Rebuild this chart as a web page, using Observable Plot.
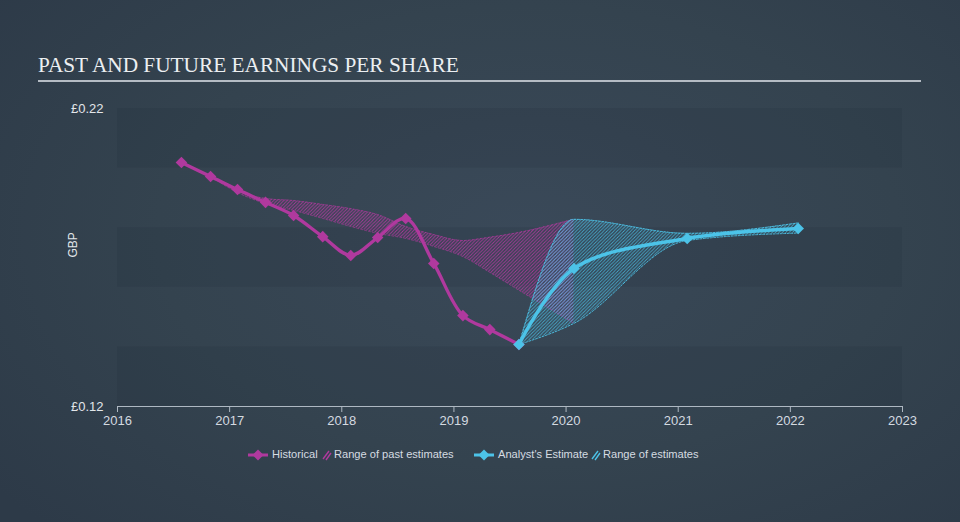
<!DOCTYPE html>
<html>
<head>
<meta charset="utf-8">
<script src="https://cdn.jsdelivr.net/npm/d3@7"></script>
<script src="https://cdn.jsdelivr.net/npm/@observablehq/plot@0.6"></script>
<style>
  html, body { margin: 0; padding: 0; }
  body { width: 960px; height: 522px; overflow: hidden; }
  #root {
    position: relative; width: 960px; height: 522px;
    background: radial-gradient(ellipse 70% 80% at 55% 45%, #3a4959 0%, #34434f 55%, #2d3a48 100%);
    font-family: "Liberation Sans", Arial, sans-serif;
  }
  #title {
    position: absolute; left: 38px; top: 53px;
    font-family: "Liberation Serif", "Times New Roman", serif;
    font-size: 21.3px; color: #eceff2; white-space: nowrap;
  }
  #rule { position: absolute; left: 38px; top: 80px; width: 883px; height: 2px; background: #b5bcc4; }
  #chart { position: absolute; left: 0; top: 90px; }
  #legend { position: absolute; left: 0; top: 446px; width: 960px; height: 18px;
    font-family: "Liberation Sans", Arial, sans-serif;
    font-size: 11.1px; color: #d6dce2; }
  #legend .item { position: absolute; top: 2px; white-space: nowrap; }
  #legend svg { position: absolute; top: 0; }
</style>
</head>
<body>
<div id="root">
  <div id="title">PAST AND FUTURE EARNINGS PER SHARE</div>
  <div id="rule"></div>
  <div id="chart"></div>
  <div id="legend"></div>
</div>
<script>
// ---- data ----
const histYears = [2016.57, 2016.83, 2017.07, 2017.32, 2017.57, 2017.83, 2018.08, 2018.32, 2018.57, 2018.82, 2019.08, 2019.32, 2019.58];
const histEPS   = [0.2019, 0.1972, 0.1928, 0.1885, 0.1841, 0.1770, 0.1707, 0.1767, 0.1831, 0.1680, 0.1505, 0.1458, 0.1408];

const pastRangeYears = [2016.83, 2017.07, 2017.32, 2017.57, 2017.83, 2018.08, 2018.32, 2018.57, 2018.82, 2019.08, 2019.32, 2019.58, 2020.07];
const pastRangeHigh  = [0.1972, 0.1925, 0.1898, 0.1891, 0.1878, 0.1864, 0.1844, 0.1804, 0.1777, 0.1757, 0.1768, 0.1784, 0.1828];
const pastRangeLow   = [0.1972, 0.1918, 0.1881, 0.1858, 0.1831, 0.1804, 0.1781, 0.1764, 0.1737, 0.1703, 0.1650, 0.1590, 0.1479];

const estYears = [2019.58, 2020.07, 2021.08, 2022.07];
const estEPS   = [0.1408, 0.1663, 0.1764, 0.1797];
const estHigh  = [0.1408, 0.1828, 0.1781, 0.1816];
const estLow   = [0.1408, 0.1479, 0.1757, 0.1782];

const xTicks = [2016, 2017, 2018, 2019, 2020, 2021, 2022, 2023];
const yTicks = [0.12, 0.22];
const bandEdges = [[0.20, 0.22], [0.16, 0.18], [0.12, 0.14]];

const legendLabels = ["Historical", "Range of past estimates", "Analyst's Estimate", "Range of estimates"];

// ---- tables ----
const hist = histYears.map((x, i) => ({x, y: histEPS[i]}));
const pastRange = pastRangeYears.map((x, i) => ({x, hi: pastRangeHigh[i], lo: pastRangeLow[i]}));
const est = estYears.map((x, i) => ({x, y: estEPS[i]}));
const estRange = estYears.map((x, i) => ({x, hi: estHigh[i], lo: estLow[i]}));
const bands = bandEdges.map(([a, b]) => ({y1: a, y2: b}));

const MAG = "#b0399e";
const BLUE = "#4cc3e8";

const plot = Plot.plot({
  width: 960,
  height: 350,
  marginLeft: 117,
  marginRight: 58,
  marginTop: 18,
  marginBottom: 34,
  x: {domain: [2016, 2023]},
  y: {domain: [0.12, 0.22]},
  style: {background: "transparent", color: "#ccd3da", fontFamily: "Liberation Sans, Arial, sans-serif", fontSize: "12px", overflow: "visible"},
  marks: [
    Plot.rect(bands, {y1: "y1", y2: "y2", fill: "#1f2b37", fillOpacity: 0.16}),
    // past estimate range
    Plot.areaY(pastRange, {x: "x", y1: "lo", y2: "hi", fill: "url(#hatchPink)", curve: "monotone-x"}),
    Plot.line(pastRange, {x: "x", y: "hi", stroke: MAG, strokeWidth: 0.8, strokeDasharray: "2,2", strokeOpacity: 0.8, curve: "monotone-x"}),
    Plot.line(pastRange, {x: "x", y: "lo", stroke: MAG, strokeWidth: 0.8, strokeDasharray: "2,2", strokeOpacity: 0.8, curve: "monotone-x"}),
    // estimate range
    Plot.areaY(estRange, {x: "x", y1: "lo", y2: "hi", fill: "url(#hatchBlue)", curve: "monotone-x"}),
    Plot.line(estRange, {x: "x", y: "hi", stroke: BLUE, strokeWidth: 1, strokeDasharray: "2,1.5", strokeOpacity: 0.9, curve: "monotone-x"}),
    Plot.line(estRange, {x: "x", y: "lo", stroke: BLUE, strokeWidth: 1, strokeDasharray: "2,1.5", strokeOpacity: 0.9, curve: "monotone-x"}),
    // historical
    Plot.line(hist, {x: "x", y: "y", stroke: MAG, strokeWidth: 3.3, curve: "catmull-rom"}),
    Plot.dot(hist, {x: "x", y: "y", symbol: "diamond2", r: 5.2, fill: MAG}),
    // estimates
    Plot.line(est, {x: "x", y: "y", stroke: BLUE, strokeWidth: 3.5, curve: "catmull-rom"}),
    Plot.dot(est, {x: "x", y: "y", symbol: "diamond2", r: 5.2, fill: BLUE}),
    // axes
    Plot.ruleY([0.12], {stroke: "#aeb8c2", strokeWidth: 1.2}),
    Plot.axisX({ticks: xTicks, tickFormat: d => String(d), tickSize: 6, tickPadding: 3, stroke: "#aeb8c2",
      fontSize: 13, fill: "#d4dae0", label: null}),
    Plot.axisY({ticks: yTicks, tickFormat: d => "£" + d.toFixed(2), tickSize: 0, tickPadding: 14, fontSize: 13, fill: "#e2e6ea", label: null}),
    Plot.text(["GBP"], {frameAnchor: "left", text: d => d, rotate: -90, dx: -44, fontSize: 12, fill: "#e2e6ea"})
  ]
});

plot.insertAdjacentHTML("afterbegin", `
<defs>
  <pattern id="hatchPink" patternUnits="userSpaceOnUse" width="3.4" height="3.4">
    <path d="M-1,1 l2,-2 M0,3.4 l3.4,-3.4 M2.4,4.4 l2,-2" stroke="${MAG}" stroke-width="0.9" stroke-opacity="0.95"/>
  </pattern>
  <pattern id="hatchBlue" patternUnits="userSpaceOnUse" width="3.4" height="3.4">
    <path d="M-1,1 l2,-2 M0,3.4 l3.4,-3.4 M2.4,4.4 l2,-2" stroke="${BLUE}" stroke-width="0.9" stroke-opacity="0.8"/>
  </pattern>
</defs>`);

document.getElementById("chart").appendChild(plot);

// ---- legend ----
const legend = document.getElementById("legend");
function marker(left, color) {
  return `<svg style="left:${left}px" width="22" height="18"><line x1="1" y1="9" x2="21" y2="9" stroke="${color}" stroke-width="3"/><path d="M11,3.5 L16.5,9 L11,14.5 L5.5,9 Z" fill="${color}"/></svg>`;
}
function hatch(left, color) {
  return `<svg style="left:${left}px" width="10" height="18"><path d="M1,13 L7,5 M4,14 L9,7" stroke="${color}" stroke-width="1.4"/></svg>`;
}
legend.innerHTML =
  marker(247, MAG) +
  `<span class="item" style="left:272px">${legendLabels[0]}</span>` +
  hatch(322, MAG) +
  `<span class="item" style="left:334px">${legendLabels[1]}</span>` +
  marker(473, BLUE) +
  `<span class="item" style="left:498px">${legendLabels[2]}</span>` +
  hatch(591, BLUE) +
  `<span class="item" style="left:603px">${legendLabels[3]}</span>`;
</script>
</body>
</html>
